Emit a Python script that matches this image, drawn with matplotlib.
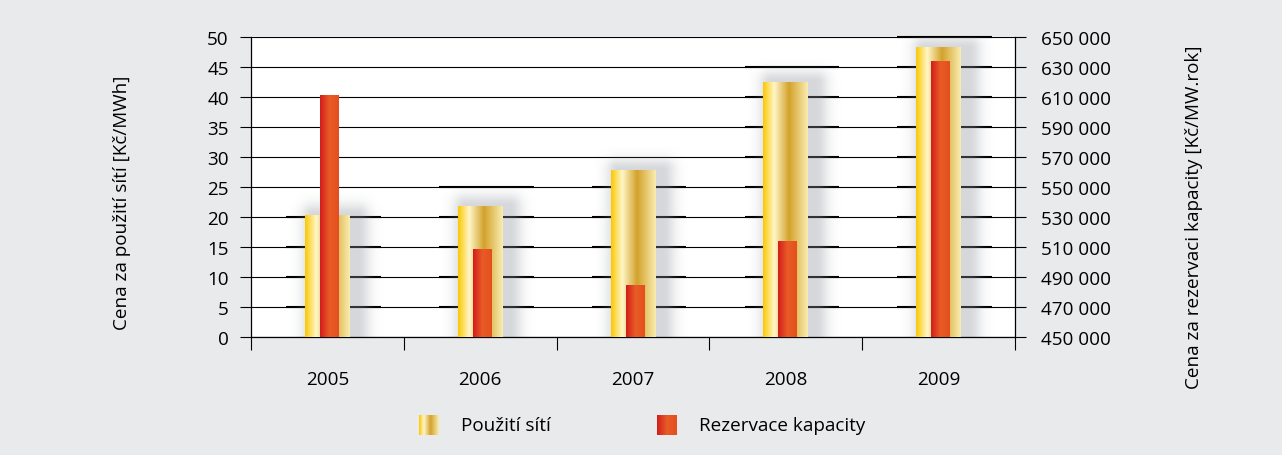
import numpy as np
import matplotlib.pyplot as plt
from matplotlib.colors import LinearSegmentedColormap

# values
years = ['2005', '2006', '2007', '2008', '2009']
pouziti_siti = [20.3, 21.7, 27.8, 42.5, 48.2]                     # Kč/MWh (left axis)
rezervace_kapacity = [611000, 508500, 484500, 514000, 634000]      # Kč/MW.rok (right axis)
left_ticks = list(range(0, 51, 5))
right_ticks = list(range(450000, 650001, 20000))
grid_depth = [20, 25, 25, 45, 50]  # top gridline with the heavy segment behind each column

plt.rcParams['font.family'] = ['Open Sans', 'DejaVu Sans']
FS = 13.6
BG = '#e9eaec'

gold = LinearSegmentedColormap.from_list(
    'gold', [(0, '#fbc800'), (0.25, '#fff6c8'), (0.58, '#d3a22c'), (1, '#faedb0')])
red = LinearSegmentedColormap.from_list(
    'red', [(0, '#d21c1c'), (0.5, '#e85c26'), (1, '#e44e1e')])
ramp = np.linspace(0, 1, 256).reshape(1, -1)

fig = plt.figure(figsize=(12.82, 4.56), dpi=100, facecolor=BG)
ax = fig.add_axes([251 / 1282, 1 - 338 / 456, 764 / 1282, 300 / 456])
ax.set_facecolor('white')
ax2 = ax.twinx()

PX_X = 764 / 5   # pixels per category
PX_Y = 300 / 50  # pixels per left-axis unit


def shadow(xc, w, top, off=0.05, blur=12):
    x0, x1 = xc - w / 2, xc + w / 2
    xs = np.linspace(x0 - 0.1, x1 + 0.4, 150)
    ys = np.linspace(0, min(top + 4, 51), 250)
    X, Y = np.meshgrid(xs, ys)
    dx = np.maximum(0, np.maximum((x0 + off) - X, X - (x1 + off))) * PX_X
    dy = np.maximum(0, Y - top) * PX_Y
    d = np.hypot(dx, dy)
    img = np.zeros(X.shape + (4,))
    img[..., :3] = (0.55, 0.57, 0.60)
    img[..., 3] = 0.36 * np.exp(-(d / blur) ** 2)
    ax.imshow(img, extent=[xs[0], xs[-1], 0, ys[-1]], origin='lower',
              aspect='auto', interpolation='bilinear', zorder=2)


def grad_bar(axis, xc, w, bottom, top, cmap):
    axis.imshow(ramp, cmap=cmap, extent=[xc - w / 2, xc + w / 2, bottom, top],
                aspect='auto', interpolation='bilinear', zorder=3)


# grid
ax.hlines(left_ticks, -0.5, 4.5, color='black', lw=0.8, zorder=1)
for i, depth in enumerate(grid_depth):
    lv = [l for l in left_ticks[1:] if l <= depth]
    ax.hlines(lv, i + 0.04 - 0.31, i + 0.04 + 0.31, color='black', lw=1.5,
              zorder=1, clip_on=False)

# columns
for i, v in enumerate(pouziti_siti):
    shadow(i, 0.294, v)
    grad_bar(ax, i, 0.294, 0, v, gold)
for i, v in enumerate(rezervace_kapacity):
    grad_bar(ax2, i + 0.01, 0.118, 450000, v, red)

ax.set_xlim(-0.5, 4.5)
ax.set_ylim(0, 50)
ax2.set_ylim(450000, 650000)

ax.set_yticks(left_ticks)
ax.tick_params(axis='y', direction='out', length=8, width=0.8, pad=8, labelsize=FS)
ax2.set_yticks(right_ticks, labels=[f'{v:,}'.replace(',', ' ') for v in right_ticks])
ax2.tick_params(axis='y', direction='out', length=8, width=0.8, pad=11, labelsize=FS)

ax.set_xticks(np.arange(-0.5, 5, 1), labels=[''] * 6)
ax.tick_params(axis='x', which='major', direction='out', length=9, width=0.8)
ax.set_xticks(range(5), labels=years, minor=True)
ax.tick_params(axis='x', which='minor', length=0, pad=24, labelsize=FS)

for s in ['top', 'right']:
    ax.spines[s].set_visible(False)
for s in ['top', 'left', 'bottom']:
    ax2.spines[s].set_visible(False)
for a in (ax, ax2):
    for s in a.spines.values():
        s.set_linewidth(0.9)

fig.text(122 / 1282, 1 - 203 / 456, 'Cena za použití sítí [Kč/MWh]',
         rotation=90, ha='center', va='center', fontsize=FS)
fig.text(1194 / 1282, 1 - 217 / 456, 'Cena za rezervaci kapacity [Kč/MW.rok]',
         rotation=90, ha='center', va='center', fontsize=FS)

# legend
for x0, cmap, txt, tx in [(419, gold, 'Použití sítí', 461),
                          (657, red, 'Rezervace kapacity', 699)]:
    lax = fig.add_axes([x0 / 1282, 1 - 436 / 456, 20 / 1282, 20 / 456])
    lax.imshow(ramp, cmap=cmap, aspect='auto', interpolation='bilinear')
    lax.axis('off')
    fig.text(tx / 1282, 1 - 426 / 456, txt, ha='left', va='center', fontsize=FS)

fig.savefig('out.png', dpi=100, facecolor=BG)
